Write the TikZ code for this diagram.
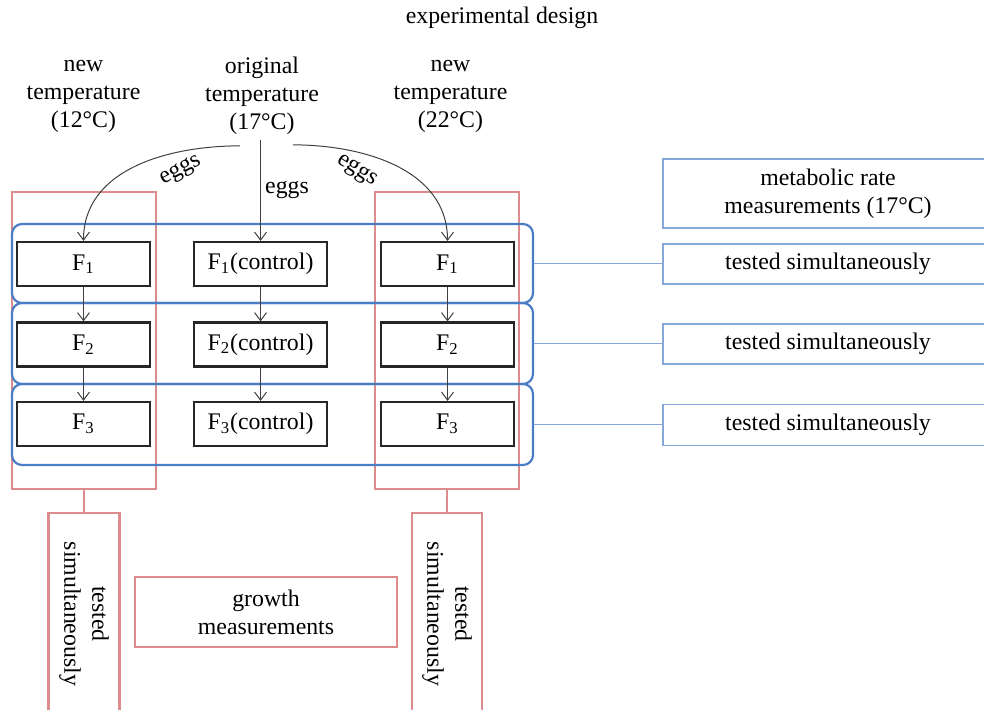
\documentclass[tikz,border=0pt]{standalone}
\usepackage{fontspec}
\setmainfont{Liberation Serif}
\usepackage{tikz}
\usetikzlibrary{calc,arrows.meta,positioning}

\tikzset{
  every node/.style={font=\fontsize{11.9}{14}\selectfont},
  genbox/.style={draw=black!85, line width=1.1pt, minimum width=66.5pt, minimum height=22pt, inner sep=0pt},
  grpbox/.style={draw=growthred, line width=1.1pt, inner sep=0pt},
  rowbrace/.style={draw=braceblue, line width=1.1pt, rounded corners=5pt, inner sep=0pt,
    minimum width=260.5pt},
  testbox/.style={draw=testblue, line width=0.7pt, minimum width=165pt, inner sep=0pt},
  flow/.style={-{Straight Barb[length=4pt,width=6pt]}, draw=black!75, line width=0.5pt},
  bluelink/.style={draw=testblue, line width=0.7pt},
  redlink/.style={draw=growthred, line width=1.1pt},
}

\begin{document}
\begin{tikzpicture}[x=0.5pt, y=-0.5pt]
    \definecolor{growthred}{HTML}{DC8C8C}
    \definecolor{braceblue}{HTML}{4A7DC6}
    \definecolor{testblue}{HTML}{86A8D8}

    \useasboundingbox (0,0) rectangle (984,709);
    \clip (0,0) rectangle (984,709);

    % =================== headings ===================
    \node (title) at (502,18) {experimental design};
    \node[align=center] (t12) at (83.5,96) {new\\temperature\\(12\textdegree C)};
    \node[align=center] (t17) at (262,96) {original\\temperature\\(17\textdegree C)};
    \node[align=center] (t22) at (450.5,96) {new\\temperature\\(22\textdegree C)};

    % =================== growth groups (red) ===================
    \node[grpbox, minimum width=72pt, minimum height=148.5pt] (grpL) at (84,340.5) {};
    \node[grpbox, minimum width=72pt, minimum height=148.5pt] (grpR) at (447,340.5) {};

    % =================== simultaneous rows (blue) ===================
    \node[rowbrace, minimum height=39.5pt] (row1) at (272.5,263.5) {};
    \node[rowbrace, minimum height=40.5pt] (row2) at (272.5,343.5) {};
    \node[rowbrace, minimum height=40.5pt] (row3) at (272.5,424.5) {};

    % =================== generations ===================
    \foreach \g/\y in {1/264,2/344.5,3/424}{
      \node[genbox, fill=white] (L\g) at (83.5,\y) {F\textsubscript{\g}};
      \node[genbox, fill=white] (C\g) at (260.5,\y) {F\textsubscript{\g}(control)};
      \node[genbox, fill=white] (R\g) at (447.5,\y) {F\textsubscript{\g}};
    }
    \foreach \a/\b in {1/2,2/3}{
      \draw[flow] (L\a) -- (L\b);
      \draw[flow] (C\a) -- (C\b);
      \draw[flow] (R\a) -- (R\b);
    }

    % eggs from the original temperature
    \coordinate (eggL) at ($(t17.south)+(-22,4)$);
    \coordinate (eggC) at ($(t17.south)+(-1.5,-2)$);
    \coordinate (eggR) at ($(t17.south)+(31,3)$);
    \draw[flow] (eggL) to[out=180,in=90] (L1.north);
    \draw[flow] (eggC) -- (C1.north);
    \draw[flow] (eggR) to[out=0,in=90] (R1.north);
    \node[rotate=28, inner sep=1pt] (lblL) at (181,171) {eggs};
    \node (lblC) at (287,190) {eggs};
    \node[rotate=-33, inner sep=1pt] (lblR) at (357,171) {eggs};

    % =================== metabolic rate measurements ===================
    \node[testbox, minimum height=34.5pt, align=center] (metab) at (828,193.5)
      {metabolic rate\\measurements (17\textdegree C)};
    \node[testbox, minimum height=20pt] (ts1) at (828,264) {tested simultaneously};
    \node[testbox, minimum height=20pt] (ts2) at (828,344) {tested simultaneously};
    \node[testbox, minimum height=20.5pt] (ts3) at (828,425) {tested simultaneously};
    \foreach \i in {1,2,3}{
      \draw[bluelink] (row\i.east) -- (row\i.east -| ts\i.west);
    }

    % =================== growth measurements ===================
    \node[grpbox, minimum width=35.5pt, minimum height=101pt] (simL) at (84,614) {};
    \node[rotate=-90, align=center] (simLtxt) at (simL.center) {tested\\simultaneously};
    \node[grpbox, minimum width=35pt, minimum height=101pt] (simR) at (447,614) {};
    \node[rotate=-90, align=center] (simRtxt) at (simR.center) {tested\\simultaneously};
    \draw[redlink] (grpL.south) -- (simL.north);
    \draw[redlink] (grpR.south) -- (simR.north);
    \node[grpbox, minimum width=131pt, minimum height=35pt, align=center] (growth) at (266,612)
      {growth\\measurements};
\end{tikzpicture}
\end{document}
